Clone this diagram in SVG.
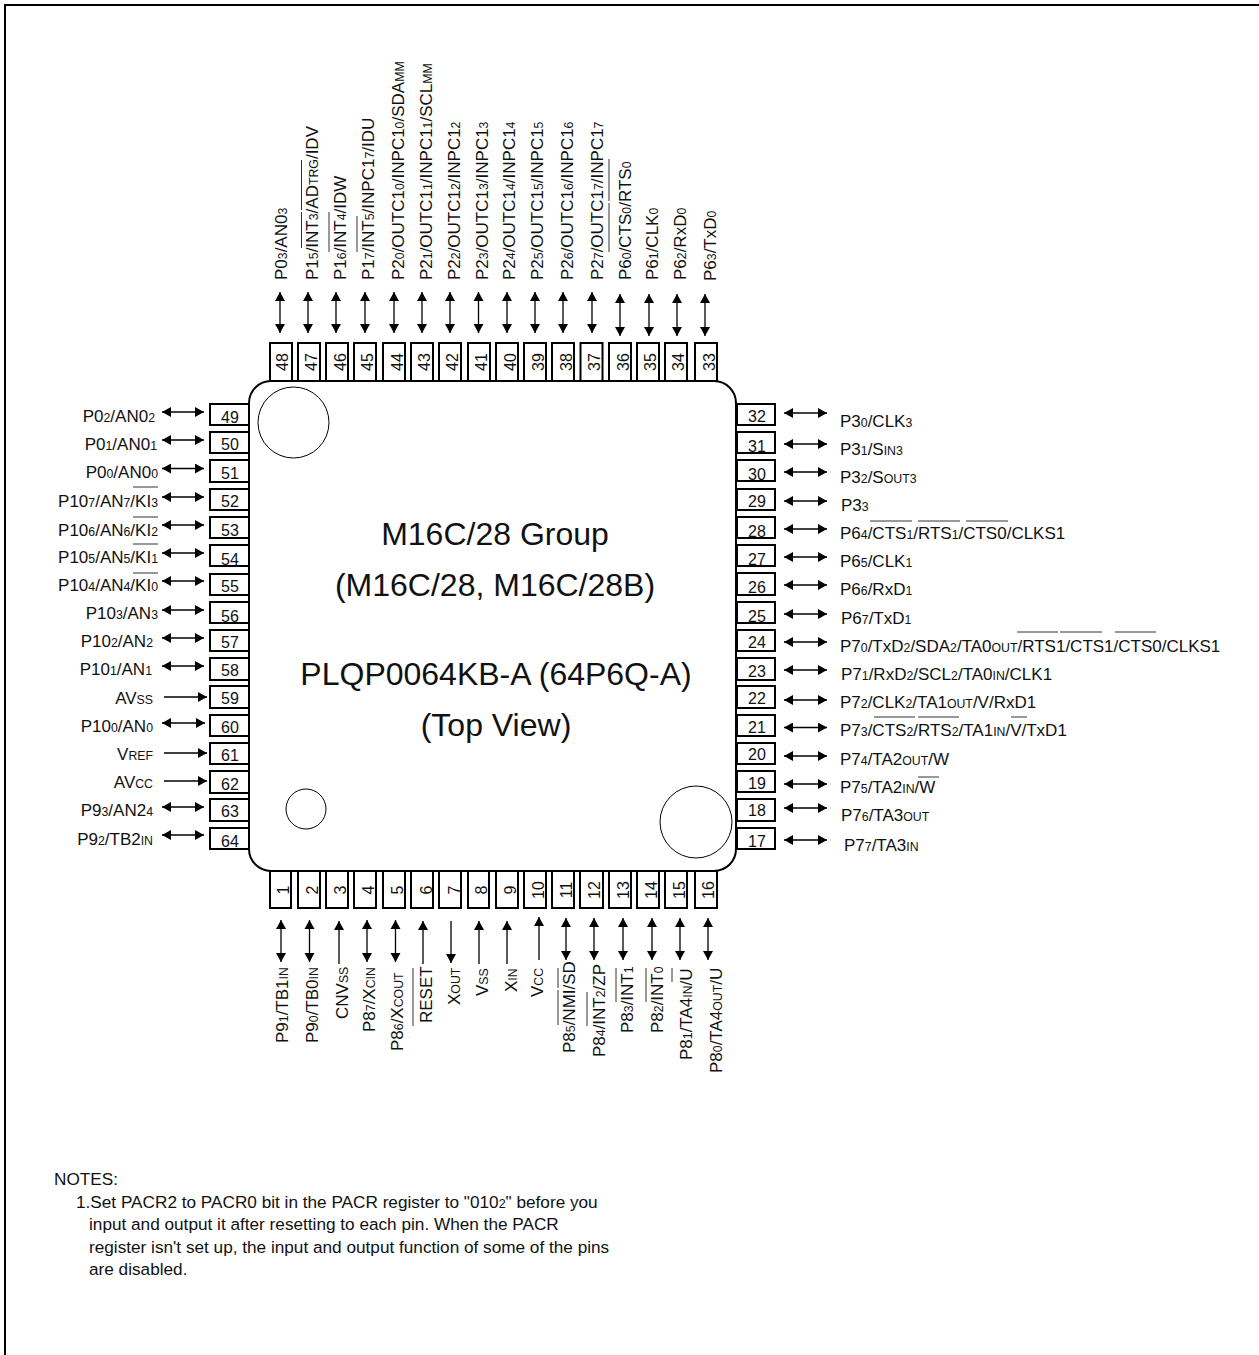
<svg xmlns="http://www.w3.org/2000/svg" width="1259" height="1355" viewBox="0 0 1259 1355">
<style>
text{font-family:"Liberation Sans",Arial,sans-serif;fill:#111}
.l{font-size:17px}
.e{text-anchor:end}
.s{font-size:12.3px}
.n{font-size:16px;text-anchor:middle}
.t{font-size:32px;text-anchor:middle}
.f{font-size:17.2px}
.p{fill:#fff;stroke:#000;stroke-width:2}
.c{fill:#fff;stroke:#000;stroke-width:1}
.a{fill:none;stroke:#000;stroke-width:1.3;marker-end:url(#h)}
.b{fill:none;stroke:#000;stroke-width:1.3;marker-start:url(#hs);marker-end:url(#h)}
.o{fill:none;stroke:#333;stroke-width:1}
</style>
<defs>
<marker id="h" markerUnits="userSpaceOnUse" markerWidth="10" markerHeight="12" refX="9" refY="5" orient="auto"><path d="M0 0L9 5L0 10Z" fill="#000"/></marker>
<marker id="hs" markerUnits="userSpaceOnUse" markerWidth="10" markerHeight="12" refX="0" refY="5" orient="auto"><path d="M9 0L0 5L9 10Z" fill="#000"/></marker>
</defs>
<path d="M5 1355V5H1259" fill="none" stroke="#000" stroke-width="2"/>
<g id="chip">
<rect x="249" y="381" width="487" height="490" rx="22" fill="#fff" stroke="#000" stroke-width="2"/>
<circle class="c" cx="293.5" cy="422.5" r="35.5"/>
<circle class="c" cx="306" cy="809" r="20"/>
<circle class="c" cx="696" cy="822" r="36"/>
<text class="t" x="495" y="545">M16C/28 Group</text>
<text class="t" x="495" y="596">(M16C/28, M16C/28B)</text>
<text class="t" x="496" y="685">PLQP0064KB-A (64P6Q-A)</text>
<text class="t" x="496" y="736">(Top View)</text>
</g>
<g id="connectors">
<path class="b" d="M280 292V333"/><path class="b" d="M308 292V333"/><path class="b" d="M336 292V333"/><path class="b" d="M365 292V333"/><path class="b" d="M394 292V333"/><path class="b" d="M422 292V333"/><path class="b" d="M450 292V333"/><path class="b" d="M478.500 292V333"/><path class="b" d="M507 292V333"/><path class="b" d="M535 292V333"/><path class="b" d="M563 292V333"/><path class="b" d="M592 292V333"/><path class="b" d="M620 294V336"/><path class="b" d="M649 294V336"/><path class="b" d="M677 294V336"/><path class="b" d="M705 294V336"/>
<path class="b" d="M162 412H204"/><path class="b" d="M162 440H204"/><path class="b" d="M162 468.500H204"/><path class="b" d="M162 497H204"/><path class="b" d="M162 525H204"/><path class="b" d="M162 553H204"/><path class="b" d="M162 581H204"/><path class="b" d="M162 610H204"/><path class="b" d="M162 638H204"/><path class="b" d="M162 666H204"/><path class="a" d="M164 697H207"/><path class="b" d="M162 723H205"/><path class="a" d="M164 753H207"/><path class="a" d="M164 781H207"/><path class="b" d="M162 807H204"/><path class="b" d="M162 835H204"/>
<path class="b" d="M784 413H827"/><path class="b" d="M784 444H827"/><path class="b" d="M784 472H827"/><path class="b" d="M784 501H827"/><path class="b" d="M784 529H827"/><path class="b" d="M784 557H827"/><path class="b" d="M784 585H827"/><path class="b" d="M784 614H827"/><path class="b" d="M784 642H827"/><path class="b" d="M784 670H827"/><path class="b" d="M784 700H827"/><path class="b" d="M784 727.500H827"/><path class="b" d="M784 756H827"/><path class="b" d="M784 784H827"/><path class="b" d="M784 808H827"/><path class="b" d="M784 840H827"/>
<path class="b" d="M281 920V962"/><path class="b" d="M309.500 920V962"/><path class="a" d="M339 964V921"/><path class="b" d="M367 920V962"/><path class="b" d="M395.500 920V962"/><path class="a" d="M423 964V921"/><path class="a" d="M451 921V963"/><path class="a" d="M479 964V921"/><path class="a" d="M507 964V921"/><path class="a" d="M539 960V917"/><path class="b" d="M566 918V960"/><path class="b" d="M594 918V960"/><path class="b" d="M623 918V960"/><path class="b" d="M652 918V960"/><path class="b" d="M680 918V960"/><path class="b" d="M708 918V960"/>
</g>
<g id="overbars">
<path class="o" d="M301.500 248V212M301.500 210V160M329 252V212M357 252V216M609 252V203M609 201V159"/>
<path class="o" d="M133 487H158M133 517H158M133 544H158M133 573H158"/>
<path class="o" d="M870 521H912M918 521H960M966 521H1008M1017 632H1058M1060 632H1102M1115 632H1156M874 717H915M918 717H959M1011 717H1027M918 777H939"/>
<path class="o" d="M413 968V1026M558 968V988M558 990V1025M587 992V1026M616 968V1002M646 968V1002M672 968V982"/>
</g>
<g id="pin48"><rect class="p" x="270" y="343" width="22" height="38"/><text class="n" transform="translate(288 362) rotate(-90)">48</text><text class="l" transform="translate(287 280) rotate(-90)">P0<tspan class="s">3</tspan>/AN0<tspan class="s">3</tspan></text></g>
<g id="pin47"><rect class="p" x="298" y="343" width="22" height="38"/><text class="n" transform="translate(317 362) rotate(-90)">47</text><text class="l" transform="translate(318 280) rotate(-90)">P1<tspan class="s">5</tspan>/INT<tspan class="s">3</tspan>/AD<tspan class="s">TRG</tspan>/IDV</text></g>
<g id="pin46"><rect class="p" x="326" y="343" width="22" height="38"/><text class="n" transform="translate(346 362) rotate(-90)">46</text><text class="l" transform="translate(346 280) rotate(-90)">P1<tspan class="s">6</tspan>/INT<tspan class="s">4</tspan>/IDW</text></g>
<g id="pin45"><rect class="p" x="354" y="343" width="22" height="38"/><text class="n" transform="translate(373 362) rotate(-90)">45</text><text class="l" transform="translate(374 280) rotate(-90)">P1<tspan class="s">7</tspan>/INT<tspan class="s">5</tspan>/INPC1<tspan class="s">7</tspan>/IDU</text></g>
<g id="pin44"><rect class="p" x="383" y="343" width="22" height="38"/><text class="n" transform="translate(403 362) rotate(-90)">44</text><text class="l" transform="translate(404 280) rotate(-90)">P2<tspan class="s">0</tspan>/OUTC1<tspan class="s">0</tspan>/INPC1<tspan class="s">0</tspan>/SDA<tspan class="s">MM</tspan></text></g>
<g id="pin43"><rect class="p" x="411" y="343" width="22" height="38"/><text class="n" transform="translate(430 362) rotate(-90)">43</text><text class="l" transform="translate(432 280) rotate(-90)">P2<tspan class="s">1</tspan>/OUTC1<tspan class="s">1</tspan>/INPC1<tspan class="s">1</tspan>/SCL<tspan class="s">MM</tspan></text></g>
<g id="pin42"><rect class="p" x="439" y="343" width="22" height="38"/><text class="n" transform="translate(458 362) rotate(-90)">42</text><text class="l" transform="translate(460 280) rotate(-90)">P2<tspan class="s">2</tspan>/OUTC1<tspan class="s">2</tspan>/INPC1<tspan class="s">2</tspan></text></g>
<g id="pin41"><rect class="p" x="468" y="343" width="22" height="38"/><text class="n" transform="translate(487 362) rotate(-90)">41</text><text class="l" transform="translate(488 280) rotate(-90)">P2<tspan class="s">3</tspan>/OUTC1<tspan class="s">3</tspan>/INPC1<tspan class="s">3</tspan></text></g>
<g id="pin40"><rect class="p" x="496" y="343" width="22" height="38"/><text class="n" transform="translate(516 362) rotate(-90)">40</text><text class="l" transform="translate(515 280) rotate(-90)">P2<tspan class="s">4</tspan>/OUTC1<tspan class="s">4</tspan>/INPC1<tspan class="s">4</tspan></text></g>
<g id="pin39"><rect class="p" x="524" y="343" width="22" height="38"/><text class="n" transform="translate(544 362) rotate(-90)">39</text><text class="l" transform="translate(543 280) rotate(-90)">P2<tspan class="s">5</tspan>/OUTC1<tspan class="s">5</tspan>/INPC1<tspan class="s">5</tspan></text></g>
<g id="pin38"><rect class="p" x="552" y="343" width="22" height="38"/><text class="n" transform="translate(572 362) rotate(-90)">38</text><text class="l" transform="translate(573 280) rotate(-90)">P2<tspan class="s">6</tspan>/OUTC1<tspan class="s">6</tspan>/INPC1<tspan class="s">6</tspan></text></g>
<g id="pin37"><rect class="p" x="580.500" y="343" width="22" height="38"/><text class="n" transform="translate(600 362) rotate(-90)">37</text><text class="l" transform="translate(603 280) rotate(-90)">P2<tspan class="s">7</tspan>/OUTC1<tspan class="s">7</tspan>/INPC1<tspan class="s">7</tspan></text></g>
<g id="pin36"><rect class="p" x="609" y="343" width="22" height="38"/><text class="n" transform="translate(629 362) rotate(-90)">36</text><text class="l" transform="translate(631 280) rotate(-90)">P6<tspan class="s">0</tspan>/CTS<tspan class="s">0</tspan>/RTS<tspan class="s">0</tspan></text></g>
<g id="pin35"><rect class="p" x="637" y="343" width="22" height="38"/><text class="n" transform="translate(656 362) rotate(-90)">35</text><text class="l" transform="translate(658 280) rotate(-90)">P6<tspan class="s">1</tspan>/CLK<tspan class="s">0</tspan></text></g>
<g id="pin34"><rect class="p" x="665" y="343" width="22" height="38"/><text class="n" transform="translate(684 362) rotate(-90)">34</text><text class="l" transform="translate(686 280) rotate(-90)">P6<tspan class="s">2</tspan>/RxD<tspan class="s">0</tspan></text></g>
<g id="pin33"><rect class="p" x="695" y="343" width="22" height="38"/><text class="n" transform="translate(715 362) rotate(-90)">33</text><text class="l" transform="translate(716 281) rotate(-90)">P6<tspan class="s">3</tspan>/TxD<tspan class="s">0</tspan></text></g>
<g id="pin49"><rect class="p" x="210" y="404" width="39" height="21"/><text class="n" x="230" y="423">49</text><text class="l e" x="155" y="422">P0<tspan class="s">2</tspan>/AN0<tspan class="s">2</tspan></text></g>
<g id="pin50"><rect class="p" x="210" y="432" width="39" height="21"/><text class="n" x="230" y="450">50</text><text class="l e" x="157" y="450">P0<tspan class="s">1</tspan>/AN0<tspan class="s">1</tspan></text></g>
<g id="pin51"><rect class="p" x="210" y="460" width="39" height="22"/><text class="n" x="230" y="479">51</text><text class="l e" x="158" y="478">P0<tspan class="s">0</tspan>/AN0<tspan class="s">0</tspan></text></g>
<g id="pin52"><rect class="p" x="210" y="489" width="39" height="21"/><text class="n" x="230" y="507">52</text><text class="l e" x="158" y="507">P10<tspan class="s">7</tspan>/AN<tspan class="s">7</tspan>/KI<tspan class="s">3</tspan></text></g>
<g id="pin53"><rect class="p" x="210" y="517" width="39" height="21"/><text class="n" x="230" y="536">53</text><text class="l e" x="158" y="536">P10<tspan class="s">6</tspan>/AN<tspan class="s">6</tspan>/KI<tspan class="s">2</tspan></text></g>
<g id="pin54"><rect class="p" x="210" y="545" width="39" height="21"/><text class="n" x="230" y="565">54</text><text class="l e" x="158" y="563">P10<tspan class="s">5</tspan>/AN<tspan class="s">5</tspan>/KI<tspan class="s">1</tspan></text></g>
<g id="pin55"><rect class="p" x="210" y="574" width="39" height="21"/><text class="n" x="230" y="592">55</text><text class="l e" x="158" y="591">P10<tspan class="s">4</tspan>/AN<tspan class="s">4</tspan>/KI<tspan class="s">0</tspan></text></g>
<g id="pin56"><rect class="p" x="210" y="602" width="39" height="21"/><text class="n" x="230" y="622">56</text><text class="l e" x="158" y="619">P10<tspan class="s">3</tspan>/AN<tspan class="s">3</tspan></text></g>
<g id="pin57"><rect class="p" x="210" y="630" width="39" height="21"/><text class="n" x="230" y="648">57</text><text class="l e" x="153" y="647">P10<tspan class="s">2</tspan>/AN<tspan class="s">2</tspan></text></g>
<g id="pin58"><rect class="p" x="210" y="658" width="39" height="22"/><text class="n" x="230" y="676">58</text><text class="l e" x="152" y="675">P10<tspan class="s">1</tspan>/AN<tspan class="s">1</tspan></text></g>
<g id="pin59"><rect class="p" x="210" y="686" width="39" height="22"/><text class="n" x="230" y="704">59</text><text class="l e" x="153" y="704">AV<tspan class="s">SS</tspan></text></g>
<g id="pin60"><rect class="p" x="210" y="715" width="39" height="21"/><text class="n" x="230" y="733">60</text><text class="l e" x="153" y="732">P10<tspan class="s">0</tspan>/AN<tspan class="s">0</tspan></text></g>
<g id="pin61"><rect class="p" x="210" y="743" width="39" height="21"/><text class="n" x="230" y="761">61</text><text class="l e" x="153" y="760">V<tspan class="s">REF</tspan></text></g>
<g id="pin62"><rect class="p" x="210" y="771" width="39" height="22"/><text class="n" x="230" y="790">62</text><text class="l e" x="153" y="788">AV<tspan class="s">CC</tspan></text></g>
<g id="pin63"><rect class="p" x="210" y="799" width="39" height="22"/><text class="n" x="230" y="817">63</text><text class="l e" x="153" y="816">P9<tspan class="s">3</tspan>/AN2<tspan class="s">4</tspan></text></g>
<g id="pin64"><rect class="p" x="210" y="828" width="39" height="21"/><text class="n" x="230" y="847">64</text><text class="l e" x="153" y="845">P9<tspan class="s">2</tspan>/TB2<tspan class="s">IN</tspan></text></g>
<g id="pin32"><rect class="p" x="737" y="404" width="38" height="21"/><text class="n" x="757" y="422">32</text><text class="l" x="840" y="427">P3<tspan class="s">0</tspan>/CLK<tspan class="s">3</tspan></text></g>
<g id="pin31"><rect class="p" x="737" y="432" width="38" height="21"/><text class="n" x="757" y="452">31</text><text class="l" x="840" y="455">P3<tspan class="s">1</tspan>/S<tspan class="s">IN3</tspan></text></g>
<g id="pin30"><rect class="p" x="737" y="460" width="38" height="21"/><text class="n" x="757" y="480">30</text><text class="l" x="840" y="483">P3<tspan class="s">2</tspan>/S<tspan class="s">OUT3</tspan></text></g>
<g id="pin29"><rect class="p" x="737" y="489" width="38" height="21"/><text class="n" x="757" y="507">29</text><text class="l" x="841" y="511">P3<tspan class="s">3</tspan></text></g>
<g id="pin28"><rect class="p" x="737" y="517" width="38" height="21"/><text class="n" x="757" y="537">28</text><text class="l" x="840" y="539">P6<tspan class="s">4</tspan>/CTS<tspan class="s">1</tspan>/RTS<tspan class="s">1</tspan>/CTS0/CLKS1</text></g>
<g id="pin27"><rect class="p" x="737" y="545" width="38" height="21"/><text class="n" x="757" y="565">27</text><text class="l" x="840" y="567">P6<tspan class="s">5</tspan>/CLK<tspan class="s">1</tspan></text></g>
<g id="pin26"><rect class="p" x="737" y="573" width="38" height="22"/><text class="n" x="757" y="593">26</text><text class="l" x="840" y="595">P6<tspan class="s">6</tspan>/RxD<tspan class="s">1</tspan></text></g>
<g id="pin25"><rect class="p" x="737" y="602" width="38" height="21"/><text class="n" x="757" y="622">25</text><text class="l" x="841" y="624">P6<tspan class="s">7</tspan>/TxD<tspan class="s">1</tspan></text></g>
<g id="pin24"><rect class="p" x="737" y="630" width="38" height="21"/><text class="n" x="757" y="648">24</text><text class="l" x="840" y="652">P7<tspan class="s">0</tspan>/TxD<tspan class="s">2</tspan>/SDA<tspan class="s">2</tspan>/TA0<tspan class="s">OUT</tspan>/RTS1/CTS1/CTS0/CLKS1</text></g>
<g id="pin23"><rect class="p" x="737" y="658" width="38" height="22"/><text class="n" x="757" y="677">23</text><text class="l" x="841" y="680">P7<tspan class="s">1</tspan>/RxD<tspan class="s">2</tspan>/SCL<tspan class="s">2</tspan>/TA0<tspan class="s">IN</tspan>/CLK1</text></g>
<g id="pin22"><rect class="p" x="737" y="686" width="38" height="22"/><text class="n" x="757" y="704">22</text><text class="l" x="840" y="708">P7<tspan class="s">2</tspan>/CLK<tspan class="s">2</tspan>/TA1<tspan class="s">OUT</tspan>/V/RxD1</text></g>
<g id="pin21"><rect class="p" x="737" y="715" width="38" height="21"/><text class="n" x="757" y="733">21</text><text class="l" x="840" y="736">P7<tspan class="s">3</tspan>/CTS<tspan class="s">2</tspan>/RTS<tspan class="s">2</tspan>/TA1<tspan class="s">IN</tspan>/V/TxD1</text></g>
<g id="pin20"><rect class="p" x="737" y="743" width="38" height="21"/><text class="n" x="757" y="760">20</text><text class="l" x="840" y="765">P7<tspan class="s">4</tspan>/TA2<tspan class="s">OUT</tspan>/W</text></g>
<g id="pin19"><rect class="p" x="737" y="771" width="38" height="21"/><text class="n" x="757" y="789">19</text><text class="l" x="840" y="793">P7<tspan class="s">5</tspan>/TA2<tspan class="s">IN</tspan>/W</text></g>
<g id="pin18"><rect class="p" x="737" y="799" width="38" height="22"/><text class="n" x="757" y="816">18</text><text class="l" x="841" y="821">P7<tspan class="s">6</tspan>/TA3<tspan class="s">OUT</tspan></text></g>
<g id="pin17"><rect class="p" x="737" y="828" width="38" height="21"/><text class="n" x="757" y="847">17</text><text class="l" x="844" y="851">P7<tspan class="s">7</tspan>/TA3<tspan class="s">IN</tspan></text></g>
<g id="pin1"><rect class="p" x="270" y="871" width="21" height="37"/><text class="n" transform="translate(289 890) rotate(-90)">1</text><text class="l" transform="translate(288 1043) rotate(-90)">P9<tspan class="s">1</tspan>/TB1<tspan class="s">IN</tspan></text></g>
<g id="pin2"><rect class="p" x="298" y="871" width="22" height="37"/><text class="n" transform="translate(318 890) rotate(-90)">2</text><text class="l" transform="translate(318 1043) rotate(-90)">P9<tspan class="s">0</tspan>/TB0<tspan class="s">IN</tspan></text></g>
<g id="pin3"><rect class="p" x="326" y="871" width="22" height="37"/><text class="n" transform="translate(346 890) rotate(-90)">3</text><text class="l" transform="translate(348 1019) rotate(-90)">CNV<tspan class="s">SS</tspan></text></g>
<g id="pin4"><rect class="p" x="354" y="871" width="22" height="37"/><text class="n" transform="translate(374 890) rotate(-90)">4</text><text class="l" transform="translate(375 1032) rotate(-90)">P8<tspan class="s">7</tspan>/X<tspan class="s">CIN</tspan></text></g>
<g id="pin5"><rect class="p" x="383" y="871" width="22" height="37"/><text class="n" transform="translate(403 890) rotate(-90)">5</text><text class="l" transform="translate(403 1051) rotate(-90)">P8<tspan class="s">6</tspan>/X<tspan class="s">COUT</tspan></text></g>
<g id="pin6"><rect class="p" x="411" y="871" width="22" height="37"/><text class="n" transform="translate(432 890) rotate(-90)">6</text><text class="l" transform="translate(432 1023) rotate(-90)">RESET</text></g>
<g id="pin7"><rect class="p" x="439" y="871" width="22" height="37"/><text class="n" transform="translate(460 890) rotate(-90)">7</text><text class="l" transform="translate(460 1005) rotate(-90)">X<tspan class="s">OUT</tspan></text></g>
<g id="pin8"><rect class="p" x="468" y="871" width="21" height="37"/><text class="n" transform="translate(487 890) rotate(-90)">8</text><text class="l" transform="translate(488 996) rotate(-90)">V<tspan class="s">SS</tspan></text></g>
<g id="pin9"><rect class="p" x="496" y="871" width="22" height="37"/><text class="n" transform="translate(516 890) rotate(-90)">9</text><text class="l" transform="translate(517 992) rotate(-90)">X<tspan class="s">IN</tspan></text></g>
<g id="pin10"><rect class="p" x="524" y="871" width="22" height="37"/><text class="n" transform="translate(544 890) rotate(-90)">10</text><text class="l" transform="translate(543 997) rotate(-90)">V<tspan class="s">CC</tspan></text></g>
<g id="pin11"><rect class="p" x="552" y="871" width="22" height="37"/><text class="n" transform="translate(572 890) rotate(-90)">11</text><text class="l" transform="translate(575 1053) rotate(-90)">P8<tspan class="s">5</tspan>/NMI/SD</text></g>
<g id="pin12"><rect class="p" x="580" y="871" width="23" height="37"/><text class="n" transform="translate(600 890) rotate(-90)">12</text><text class="l" transform="translate(605 1057) rotate(-90)">P8<tspan class="s">4</tspan>/INT<tspan class="s">2</tspan>/ZP</text></g>
<g id="pin13"><rect class="p" x="609" y="871" width="22" height="37"/><text class="n" transform="translate(629 890) rotate(-90)">13</text><text class="l" transform="translate(633 1033) rotate(-90)">P8<tspan class="s">3</tspan>/INT<tspan class="s">1</tspan></text></g>
<g id="pin14"><rect class="p" x="637" y="871" width="22" height="37"/><text class="n" transform="translate(657 890) rotate(-90)">14</text><text class="l" transform="translate(663 1033) rotate(-90)">P8<tspan class="s">2</tspan>/INT<tspan class="s">0</tspan></text></g>
<g id="pin15"><rect class="p" x="665" y="871" width="22" height="37"/><text class="n" transform="translate(685 890) rotate(-90)">15</text><text class="l" transform="translate(692 1060) rotate(-90)">P8<tspan class="s">1</tspan>/TA4<tspan class="s">IN</tspan>/U</text></g>
<g id="pin16"><rect class="p" x="695" y="871" width="22" height="37"/><text class="n" transform="translate(714 890) rotate(-90)">16</text><text class="l" transform="translate(722 1073) rotate(-90)">P8<tspan class="s">0</tspan>/TA4<tspan class="s">OUT</tspan>/U</text></g>
<g id="notes">
<text class="f" x="54" y="1185">NOTES:</text>
<text class="f" x="76" y="1208">1.Set PACR2 to PACR0 bit in the PACR register to "010<tspan font-size="12.500">2</tspan>" before you</text>
<text class="f" x="89" y="1230">input and output it after resetting to each pin. When the PACR</text>
<text class="f" x="89" y="1253">register isn't set up, the input and output function of some of the pins</text>
<text class="f" x="89" y="1275">are disabled.</text>
</g>
</svg>
